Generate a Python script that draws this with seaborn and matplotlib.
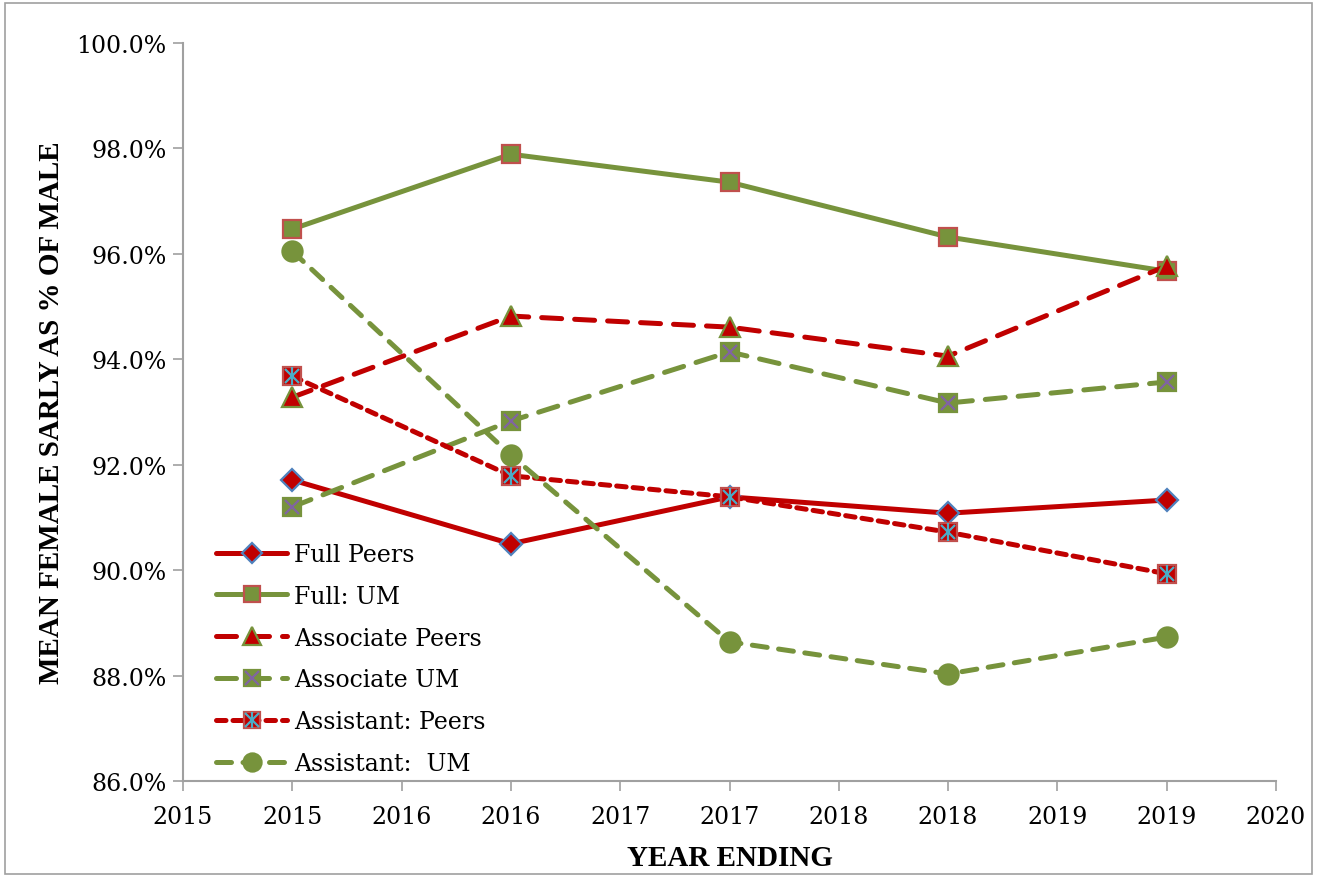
import matplotlib
matplotlib.use("Agg")
import matplotlib.pyplot as plt
from matplotlib.lines import Line2D
from matplotlib.patches import Rectangle
from matplotlib.ticker import FuncFormatter
from matplotlib.legend_handler import HandlerTuple
import seaborn as sns
import numpy as np

years = [2015, 2016, 2017, 2018, 2019]
full_peers = [91.71, 90.50, 91.39, 91.08, 91.33]
full_um = [96.47, 97.89, 97.36, 96.32, 95.67]
assoc_peers = [93.28, 94.82, 94.61, 94.06, 95.77]
assoc_um = [91.20, 92.83, 94.14, 93.17, 93.57]
asst_peers = [93.68, 91.79, 91.39, 90.72, 89.93]
asst_um = [96.05, 92.18, 88.64, 88.03, 88.73]
series_names = ["Full Peers", "Full: UM", "Associate Peers", "Associate UM",
                "Assistant: Peers", "Assistant:  UM"]
x_tick_labels = ["2015", "2015", "2016", "2016", "2017", "2017",
                 "2018", "2018", "2019", "2019", "2020"]

RED = "#C00000"
GREEN = "#77933C"
BLUE = "#4F81BD"
EDGE_RED = "#C0504D"
PURPLE = "#8064A2"
CYAN = "#4BACC6"

sns.set_theme(style="white")
plt.rcParams["font.family"] = ["DejaVu Serif"]
plt.rcParams["text.color"] = "black"
plt.rcParams["axes.labelcolor"] = "black"
plt.rcParams["xtick.labelcolor"] = "black"
plt.rcParams["ytick.labelcolor"] = "black"

fig = plt.figure(figsize=(13.19, 8.78), dpi=100)
ax = fig.add_axes([183/1319, 1-782/878, (1276-183)/1319, (782-44)/878])

lw = 3.6
specs = [
    dict(y=full_peers, color=RED, ls="-", marker="D", ms=11, mfc=RED, mec=BLUE, over=None),
    dict(y=full_um, color=GREEN, ls="-", marker="s", ms=13.5, mfc=GREEN, mec=EDGE_RED, over=None),
    dict(y=assoc_peers, color=RED, ls=(0, (4.0, 2.6)), marker="^", ms=14, mfc=RED, mec=GREEN, over=None),
    dict(y=assoc_um, color=GREEN, ls=(0, (4.0, 2.6)), marker="s", ms=13.5, mfc=GREEN, mec=GREEN, over=("x", PURPLE)),
    dict(y=asst_peers, color=RED, ls=(0, (1.9, 1.4)), marker="s", ms=13.5, mfc=RED, mec=EDGE_RED, over=("*", CYAN)),
    dict(y=asst_um, color=GREEN, ls=(0, (3.0, 2.3)), marker="o", ms=14.5, mfc=GREEN, mec=GREEN, over=None),
]

handles = []
for i, (name, s) in enumerate(zip(series_names, specs)):
    z = 3 + i
    sns.lineplot(x=years, y=s["y"], ax=ax, color=s["color"], linewidth=lw,
                 linestyle=s["ls"], marker=s["marker"], markersize=s["ms"],
                 markerfacecolor=s["mfc"], markeredgecolor=s["mec"],
                 markeredgewidth=1.6, zorder=z, dash_capstyle="round",
                 solid_capstyle="round")
    lms = s["ms"] * 0.9
    h_line = Line2D([], [], color=s["color"], linewidth=lw, linestyle=s["ls"],
                    marker=s["marker"], markersize=lms,
                    markerfacecolor=s["mfc"], markeredgecolor=s["mec"],
                    markeredgewidth=1.6, dash_capstyle="round", solid_capstyle="round")
    if s["over"] is not None:
        om, oc = s["over"]
        ax.plot(years, s["y"], linestyle="none", marker="x", markersize=s["ms"] * 0.78,
                markeredgecolor=oc, markeredgewidth=1.6, zorder=z + 0.5)
        hs = [h_line, Line2D([], [], linestyle="none", marker="x", markersize=lms * 0.78,
                             markeredgecolor=oc, markeredgewidth=1.6)]
        if om == "*":
            ax.plot(years, s["y"], linestyle="none", marker="|", markersize=s["ms"],
                    markeredgecolor=oc, markeredgewidth=1.6, zorder=z + 0.5)
            hs.append(Line2D([], [], linestyle="none", marker="|", markersize=lms,
                             markeredgecolor=oc, markeredgewidth=1.6))
        handles.append(tuple(hs))
    else:
        handles.append(h_line)

ax.set_xlim(2014.5, 2019.5)
ax.set_ylim(86, 100)
ax.set_xticks(np.arange(2014.5, 2019.51, 0.5))
ax.set_xticklabels(x_tick_labels)
ax.set_yticks(np.arange(86, 100.1, 2))
ax.yaxis.set_major_formatter(FuncFormatter(lambda v, p: f"{v:.1f}%"))
ax.tick_params(axis="both", which="major", labelsize=17, direction="out",
               length=7, width=1.2, color="#A0A0A0", bottom=True, left=True,
               labelcolor="black")
ax.tick_params(axis="x", pad=10)
ax.tick_params(axis="y", pad=5)

for side in ["top", "right"]:
    ax.spines[side].set_visible(False)
for side in ["left", "bottom"]:
    ax.spines[side].set_color("#A0A0A0")
    ax.spines[side].set_linewidth(1.5)
ax.grid(False)

ax.set_xlabel("YEAR ENDING", fontsize=21, fontweight="bold", labelpad=12,
              fontfamily="Liberation Serif", color="black")
ax.set_ylabel("MEAN FEMALE SARLY AS % OF MALE", fontsize=21, fontweight="bold",
              labelpad=8, fontfamily="Liberation Serif", color="black")

leg = ax.legend(handles, series_names, loc="lower left", bbox_to_anchor=(0.022, -0.005),
                frameon=False, fontsize=17, handlelength=3.0, handletextpad=0.3,
                labelspacing=0.80, borderaxespad=0.0,
                handler_map={tuple: HandlerTuple(ndivide=1, pad=0)})
for t in leg.get_texts():
    t.set_color("black")

fig.patches.append(Rectangle((5/1319, 3/878), 1307/1319, 871/878, transform=fig.transFigure,
                             fill=False, edgecolor="#A0A0A0", linewidth=1.2))

fig.savefig("out.png", dpi=100)
